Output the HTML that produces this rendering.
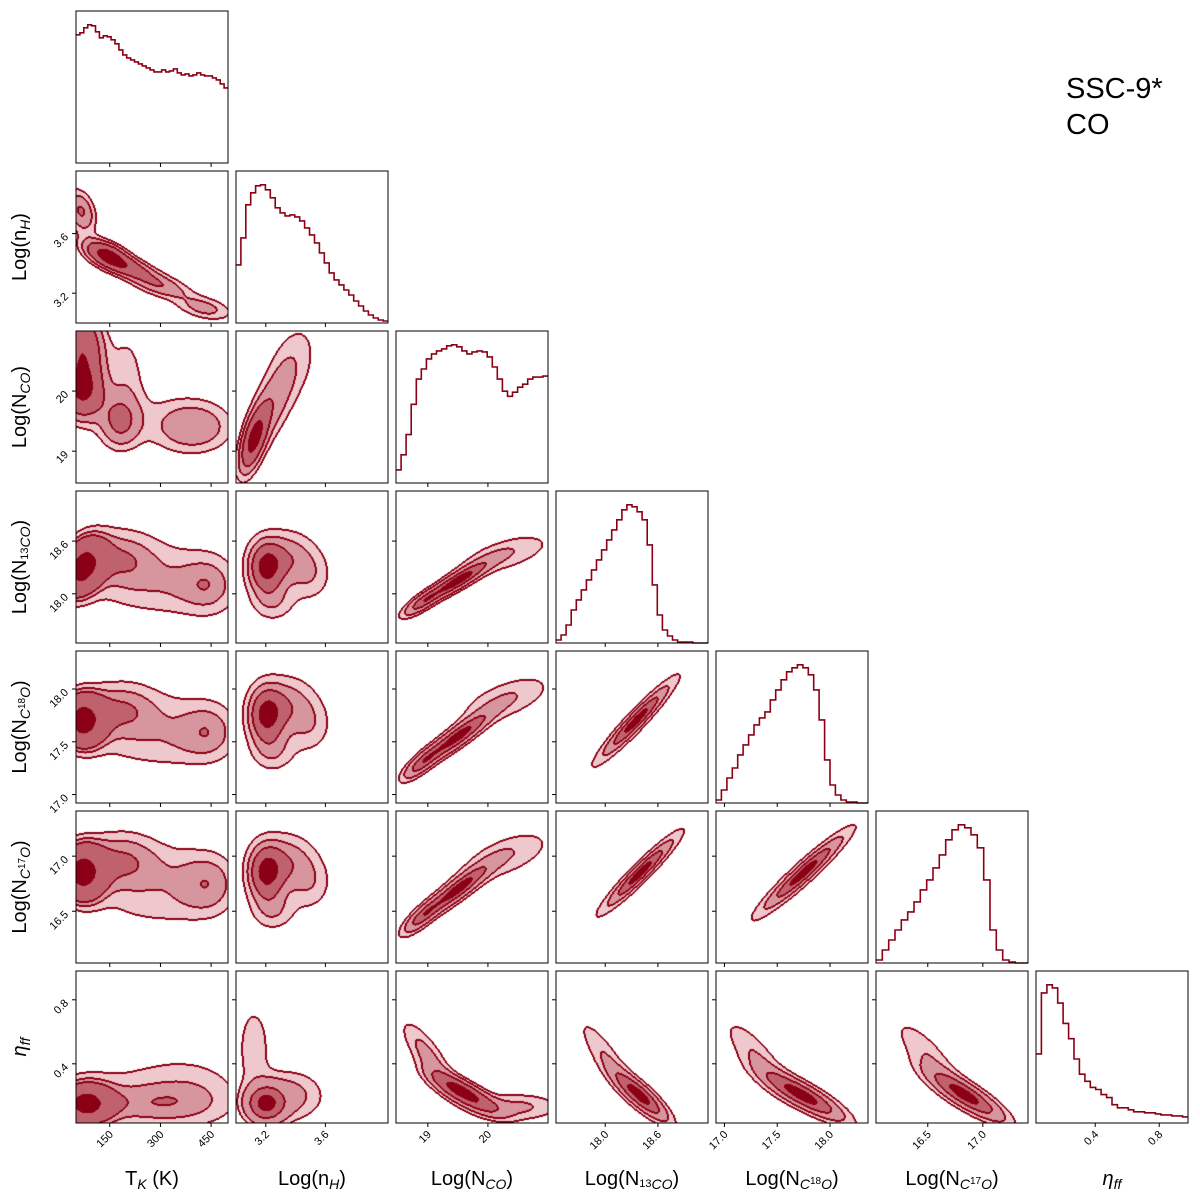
<!DOCTYPE html>
<html><head><meta charset="utf-8">
<style>
html,body{margin:0;padding:0;background:#fff;}
#wrap{position:relative;width:1200px;height:1200px;overflow:hidden;font-family:"Liberation Sans","DejaVu Sans",sans-serif;}
canvas{position:absolute;}
svg{position:absolute;left:0;top:0;}
</style></head>
<body>
<div id="wrap">
<svg id="svg" width="1200" height="1200"></svg>
</div>
<script>
// ---- data ----
const varNames = ["T_K","nH","NCO","N13CO","NC18O","NC17O","eta"];
const ranges = [[50,500],[3.0,4.02],[18.47,21.0],[17.44,19.17],[16.92,18.36],[16.03,17.41],[0.03,0.98]];
const ticksTK = [150,300,450];
const ticksNH = [3.2,3.6];
const ticksNCO = [19,20];
const ticksN13 = [18.0,18.6];
const ticksC18 = [17.0,17.5,18.0];
const ticksC17 = [16.5,17.0];
const ticksEta = [0.4,0.8];
const tickLabelsTK = ["150","300","450"];
const tickLabelsNH = ["3.2","3.6"];
const tickLabelsNCO = ["19","20"];
const tickLabelsN13 = ["18.0","18.6"];
const tickLabelsC18 = ["17.0","17.5","18.0"];
const tickLabelsC17 = ["16.5","17.0"];
const tickLabelsEta = ["0.4","0.8"];
const histTK = [128,130,135,138,137,131,125,127,126,123,119,113,108,105,103,101,99,97,95,93,91,91,93,91,92,94,90,88,89,87,88,90,88,87,87,85,83,79,75];
const histNH = [58,85,118,130,137,138,133,125,115,110,107,108,106,102,95,88,80,70,60,50,43,38,33,28,22,17,12,8,5,3,2];
const histNCO = [13,28,48,78,103,113,123,128,131,133,136,137,135,131,128,130,131,130,125,115,103,91,86,90,95,98,103,105,105,106];
const histN13 = [3,8,18,33,43,53,63,73,83,93,103,113,123,133,138,136,131,123,98,58,28,13,7,3,1,1,1,0,0,0];
const histC18 = [3,13,25,35,48,58,68,78,85,91,103,113,123,131,135,138,135,128,113,83,43,18,8,3,1,1,0,0];
const histC17 = [3,13,23,33,43,51,61,73,83,95,108,123,133,138,135,128,115,83,33,13,3,1,0,0];
const histEta = [68,128,136,133,118,98,83,63,48,41,35,33,28,25,18,15,15,13,11,11,10,10,9,8,8,7,7,6];
// gaussian mixture components per 2D panel: [x, y, sx, sy, rho, weight]
const comp_1_0 = [[65,3.75,30,0.1,-0.3,1],[140,3.46,45,0.065,-0.5,1.6],[210,3.37,55,0.06,-0.6,1],[300,3.25,60,0.06,-0.5,0.9],[430,3.1,60,0.06,-0.4,0.8]];
const comp_2_0 = [[70,20.7,40,0.4,0,1.5],[70,20.0,40,0.3,0,1.2],[180,19.5,40,0.3,0,0.6],[400,19.4,80,0.3,0,1.0],[250,19.6,150,0.5,0,0.8],[200,20.4,40,0.5,0,0.4]];
const comp_3_0 = [[70,18.3,40,0.2,0.3,1.5],[180,18.4,80,0.25,0,1],[350,18.2,100,0.3,0,0.8],[450,18.1,60,0.25,0,0.5],[250,17.95,150,0.2,0,0.4]];
const comp_4_0 = [[70,17.7,40,0.15,0,1.5],[180,17.8,80,0.2,0,1],[350,17.65,100,0.25,0,0.8],[450,17.6,60,0.2,0,0.5],[250,17.4,150,0.15,0,0.4]];
const comp_5_0 = [[70,16.85,40,0.15,0,1.5],[180,16.95,80,0.2,0,1],[350,16.8,100,0.25,0,0.8],[450,16.75,60,0.2,0,0.5],[250,16.5,150,0.15,0,0.4]];
const comp_6_0 = [[80,0.15,50,0.08,0,1.5],[250,0.15,150,0.1,0,1.5],[400,0.2,100,0.15,0,0.7],[250,0.38,200,0.14,0,0.8]];
const comp_2_1 = [[3.12,19.2,0.06,0.35,0.6,1.5],[3.25,19.8,0.1,0.5,0.6,1.2],[3.4,20.5,0.12,0.5,0.3,0.8]];
const comp_3_1 = [[3.2,18.3,0.08,0.2,0,1.5],[3.35,18.42,0.12,0.2,0,1],[3.5,18.2,0.1,0.2,0,0.5],[3.25,17.9,0.1,0.15,0,0.4]];
const comp_4_1 = [[3.2,17.75,0.08,0.18,0,1.5],[3.35,17.85,0.12,0.18,0,1],[3.5,17.65,0.1,0.18,0,0.5],[3.25,17.4,0.1,0.13,0,0.4]];
const comp_5_1 = [[3.2,16.85,0.08,0.17,0,1.5],[3.35,16.95,0.12,0.17,0,1],[3.5,16.75,0.1,0.17,0,0.5],[3.25,16.5,0.1,0.12,0,0.4]];
const comp_6_1 = [[3.2,0.15,0.08,0.07,0,1.5],[3.35,0.2,0.15,0.1,0,1],[3.12,0.5,0.08,0.2,0,0.6]];
const comp_3_2 = [[19.5,18.15,0.35,0.15,0.9,1.5],[20.3,18.45,0.5,0.15,0.6,1],[18.9,17.9,0.2,0.1,0.8,0.5]];
const comp_4_2 = [[19.5,17.55,0.35,0.15,0.9,1.5],[20.3,17.9,0.5,0.15,0.6,1],[18.9,17.3,0.2,0.1,0.8,0.5]];
const comp_5_2 = [[19.5,16.7,0.35,0.15,0.9,1.5],[20.3,17.0,0.5,0.15,0.6,1],[18.9,16.45,0.2,0.1,0.8,0.5]];
const comp_6_2 = [[19.6,0.22,0.35,0.08,-0.8,1.5],[19.0,0.45,0.3,0.15,-0.8,0.8],[20.5,0.13,0.5,0.06,0,0.8]];
const comp_4_3 = [[18.35,17.7,0.25,0.22,0.95,1]];
const comp_5_3 = [[18.4,16.85,0.25,0.2,0.95,1]];
const comp_6_3 = [[18.4,0.2,0.2,0.1,-0.85,1],[18.0,0.45,0.2,0.15,-0.85,0.4]];
const comp_5_4 = [[17.75,16.85,0.25,0.22,0.95,1]];
const comp_6_4 = [[17.75,0.2,0.25,0.1,-0.85,1],[17.3,0.45,0.2,0.15,-0.8,0.4]];
const comp_6_5 = [[16.85,0.2,0.22,0.1,-0.85,1],[16.5,0.45,0.2,0.15,-0.8,0.4]];

const comps = {"1_0":comp_1_0,"2_0":comp_2_0,"3_0":comp_3_0,"4_0":comp_4_0,"5_0":comp_5_0,"6_0":comp_6_0,
"2_1":comp_2_1,"3_1":comp_3_1,"4_1":comp_4_1,"5_1":comp_5_1,"6_1":comp_6_1,
"3_2":comp_3_2,"4_2":comp_4_2,"5_2":comp_5_2,"6_2":comp_6_2,
"4_3":comp_4_3,"5_3":comp_5_3,"6_3":comp_6_3,"5_4":comp_5_4,"6_4":comp_6_4,"6_5":comp_6_5};
const hists = [histTK,histNH,histNCO,histN13,histC18,histC17,histEta];
const ticks = [ticksTK,ticksNH,ticksNCO,ticksN13,ticksC18,ticksC17,ticksEta];
const tickLabels = [tickLabelsTK,tickLabelsNH,tickLabelsNCO,tickLabelsN13,tickLabelsC18,tickLabelsC17,tickLabelsEta];

// ---- layout ----
const X0=76, Y0=11, STEP=160, W=152;
const LINE="#8b0014";
function px(v,k,j){const r=ranges[k];return X0+STEP*j+(v-r[0])/(r[1]-r[0])*W;}
function py(v,k,i){const r=ranges[k];return Y0+STEP*i+W-(v-r[0])/(r[1]-r[0])*W;}
const svg=document.getElementById('svg');
const NS="http://www.w3.org/2000/svg";
function mk(tag,attrs,parent){const e=document.createElementNS(NS,tag);for(const k in attrs)e.setAttribute(k,attrs[k]);(parent||svg).appendChild(e);return e;}
const wrap=document.getElementById('wrap');

// contours
const fills=[[255,255,255],[238,200,205],[215,150,158],[192,98,110],[139,0,22]];
const fracs=[0.118,0.393,0.675,0.865];
function dens(c,x,y){let s=0;for(const g of c){const dx=(x-g[0])/g[2],dy=(y-g[1])/g[3],r=g[4];const z=(dx*dx-2*r*dx*dy+dy*dy)/(2*(1-r*r));s+=g[5]/(g[2]*g[3]*Math.sqrt(1-r*r))*Math.exp(-z);}return s;}
for(const key in comps){
  const [i,j]=key.split('_').map(Number);
  const c=comps[key];
  const cv=document.createElement('canvas');cv.width=W;cv.height=W;
  cv.style.left=(X0+STEP*j)+'px';cv.style.top=(Y0+STEP*i)+'px';
  
  
  wrap.insertBefore(cv,svg);
  const rx=ranges[j],ry=ranges[i];
  const d=new Float64Array(W*W);
  for(let r=0;r<W;r++)for(let q=0;q<W;q++){
    const x=rx[0]+(q+0.5)/W*(rx[1]-rx[0]);const y=ry[1]-(r+0.5)/W*(ry[1]-ry[0]);
    d[r*W+q]=dens(c,x,y);}
  const sorted=Array.from(d).sort((a,b)=>b-a);const tot=sorted.reduce((a,b)=>a+b,0);
  const th=[];let cum=0,fi=0;
  for(let n=0;n<sorted.length&&fi<4;n++){cum+=sorted[n];while(fi<4&&cum>=fracs[fi]*tot){th[fi]=sorted[n];fi++;}}
  while(th.length<4)th.push(0);
  const lev=new Uint8Array(W*W);
  for(let n=0;n<W*W;n++){let L=0;for(let t=0;t<4;t++){if(d[n]>=th[t]){L=4-t;break;}}lev[n]=L;}
  const ctx=cv.getContext('2d');const im=ctx.createImageData(W,W);
  for(let r=0;r<W;r++)for(let q=0;q<W;q++){
    const n=r*W+q;let col=fills[lev[n]];
    const L=lev[n];
    const edge=(q<W-1&&lev[n+1]!==L)||(r<W-1&&lev[n+W]!==L)||(q>0&&lev[n-1]!==L)||(r>0&&lev[n-W]!==L);
    if(edge)col=[139,0,20];
    im.data[n*4]=col[0];im.data[n*4+1]=col[1];im.data[n*4+2]=col[2];im.data[n*4+3]=255;}
  ctx.putImageData(im,0,0);
}

// frames, ticks, hist
for(let i=0;i<7;i++){for(let j=0;j<=i;j++){
  const x=X0+STEP*j,y=Y0+STEP*i;
  const g=mk('g',{});
  
  
  if(i===j){
    const h=hists[i];const mx=Math.max(...h)*1.1;const n=h.length;
    let p='';
    for(let b=0;b<n;b++){const xa=x+b/n*W,xb=x+(b+1)/n*W,yy=y+W-h[b]/mx*W;p+=(b===0?'M':'L')+xa.toFixed(1)+','+yy.toFixed(1)+'H'+xb.toFixed(1);}
    const hp=mk('path',{d:p,fill:'none',stroke:LINE,'stroke-width':1.6},g);
    
    
  }
  const fr=mk('rect',{x:x,y:y,width:W,height:W,fill:'none',stroke:'#000','stroke-width':1},g);
  
  
  ticks[j].forEach((t,k)=>{const tx=px(t,j,j);
    mk('line',{x1:tx,x2:tx,y1:y+W,y2:y+W+4,stroke:'#000','stroke-width':1},g);
    if(i===6){const tl=mk('text',{x:tx+4,y:y+W+12,'font-size':11,'text-anchor':'end',transform:'rotate(-45 '+(tx+4)+' '+(y+W+12)+')'},g);
      tl.textContent=tickLabels[j][k];
      
      }
  });
  if(i!==j){ticks[i].forEach((t,k)=>{const ty=py(t,i,i);
    mk('line',{x1:x-4,x2:x,y1:ty,y2:ty,stroke:'#000','stroke-width':1},g);
    if(j===0){const tl=mk('text',{x:x-7,y:ty+4,'font-size':11,'text-anchor':'end',transform:'rotate(-45 '+(x-7)+' '+(ty+4)+')'},g);
      tl.textContent=tickLabels[i][k];
      
      }
  });}
}}
</script>
<svg width="1200" height="1200" style="position:absolute;left:0;top:0;pointer-events:none" font-family="Liberation Sans, DejaVu Sans, sans-serif">
<g font-size="20" text-anchor="middle">
<text x="152" y="1185">T<tspan font-size="14" font-style="italic" dy="4">K</tspan><tspan dy="-4"> (K)</tspan></text>
<text x="312" y="1185">Log(n<tspan font-size="14" font-style="italic" dy="4">H</tspan><tspan dy="-4">)</tspan></text>
<text x="472" y="1185">Log(N<tspan font-size="14" font-style="italic" dy="4">CO</tspan><tspan dy="-4">)</tspan></text>
<text x="632" y="1185">Log(N<tspan font-size="11" dy="2">13</tspan><tspan font-size="14" font-style="italic" dy="2">CO</tspan><tspan dy="-4">)</tspan></text>
<text x="792" y="1185">Log(N<tspan font-size="14" font-style="italic" dy="4">C</tspan><tspan font-size="10" dy="-5">18</tspan><tspan font-size="14" font-style="italic" dy="5">O</tspan><tspan dy="-4">)</tspan></text>
<text x="952" y="1185">Log(N<tspan font-size="14" font-style="italic" dy="4">C</tspan><tspan font-size="10" dy="-5">17</tspan><tspan font-size="14" font-style="italic" dy="5">O</tspan><tspan dy="-4">)</tspan></text>
<text x="1112" y="1185" font-style="italic">η<tspan font-size="14" dy="4">ff</tspan></text>
</g>
<g font-size="20" text-anchor="middle">
<text transform="translate(26,247) rotate(-90)">Log(n<tspan font-size="14" font-style="italic" dy="4">H</tspan><tspan dy="-4">)</tspan></text>
<text transform="translate(26,407) rotate(-90)">Log(N<tspan font-size="14" font-style="italic" dy="4">CO</tspan><tspan dy="-4">)</tspan></text>
<text transform="translate(26,567) rotate(-90)">Log(N<tspan font-size="11" dy="2">13</tspan><tspan font-size="14" font-style="italic" dy="2">CO</tspan><tspan dy="-4">)</tspan></text>
<text transform="translate(26,727) rotate(-90)">Log(N<tspan font-size="14" font-style="italic" dy="4">C</tspan><tspan font-size="10" dy="-5">18</tspan><tspan font-size="14" font-style="italic" dy="5">O</tspan><tspan dy="-4">)</tspan></text>
<text transform="translate(26,887) rotate(-90)">Log(N<tspan font-size="14" font-style="italic" dy="4">C</tspan><tspan font-size="10" dy="-5">17</tspan><tspan font-size="14" font-style="italic" dy="5">O</tspan><tspan dy="-4">)</tspan></text>
<text transform="translate(26,1047) rotate(-90)" font-style="italic">η<tspan font-size="14" dy="4">ff</tspan></text>
</g>
<text x="1066" y="98" font-size="29">SSC-9*</text>
<text x="1066" y="134" font-size="29">CO</text>
</svg>
</body></html>
